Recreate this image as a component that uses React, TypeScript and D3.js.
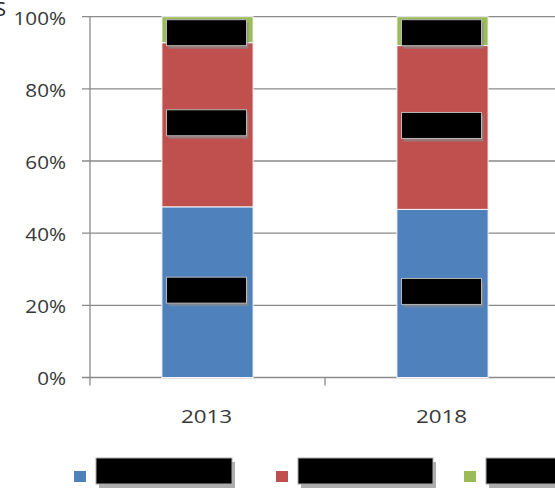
import React from "react";
import * as d3 from "d3";

const categories = ["2013", "2018"];
const seriesNames = ["Series A", "Series B", "Series C"];
const seriesA = [47.3, 46.6];
const seriesB = [45.5, 45.4];
const seriesC = [7.2, 8.0];
const yTicks = [0, 20, 40, 60, 80, 100];
const colors = ["#4F81BD", "#C0504D", "#9BBB59"];

const W = 555;
const H = 492;
const FONT = "'Open Sans', 'Noto Sans', sans-serif";
const TXT = "#383838";
const GRID = "#8a8a8a";

export default function App() {
  const axisX = 90;
  const step = 235;
  const x = d3
    .scaleBand<string>()
    .domain(categories)
    .range([axisX, axisX + step * categories.length])
    .paddingInner(0.612)
    .paddingOuter(0.306);
  const y = d3.scaleLinear().domain([0, 100]).range([377.5, 16.7]);

  const rows = categories.map((c, i) => ({
    cat: c,
    A: seriesA[i],
    B: seriesB[i],
    C: seriesC[i],
  }));
  const stack = d3.stack<any>().keys(["A", "B", "C"]);
  const layers = stack(rows);

  const legendX = [74, 276, 464];
  const legendBoxW = [136, 135, 120];

  return (
    <svg
      width={W}
      height={H}
      style={{ position: "absolute", left: 0, top: 0, background: "#fff" }}
      fontFamily={FONT}
    >
      <rect x={0} y={0} width={W} height={H} fill="#fff" />
      {/* cut-off title glyph */}
      <text x={6} y={16} textAnchor="end" fontSize={20} fill="#222">
        S
      </text>

      {/* gridlines */}
      {yTicks.map((t) => (
        <line
          key={t}
          x1={82}
          x2={W}
          y1={y(t)}
          y2={y(t)}
          stroke={GRID}
          strokeWidth={1.3}
        />
      ))}
      {/* y axis */}
      <line x1={axisX} x2={axisX} y1={y(100)} y2={y(0) + 8} stroke={GRID} strokeWidth={1.3} />
      {/* category ticks */}
      {categories.map((c, i) => (
        <line
          key={c}
          x1={axisX + step * (i + 1)}
          x2={axisX + step * (i + 1)}
          y1={y(0)}
          y2={y(0) + 8}
          stroke={GRID}
          strokeWidth={1.3}
        />
      ))}

      {/* y labels */}
      {yTicks.map((t) => (
        <text
          key={t}
          transform={`translate(66,${y(t) + 1.5}) scale(1.18,1)`}
          textAnchor="end"
          dominantBaseline="central"
          fontSize={17.5}
          fill={TXT}
        >
          {t}%
        </text>
      ))}

      {/* bars */}
      {layers.map((layer, li) =>
        layer.map((d, i) => (
          <rect
            key={`${li}-${i}`}
            x={x(categories[i])!}
            y={y(d[1])}
            width={x.bandwidth()}
            height={y(d[0]) - y(d[1])}
            fill={colors[li]}
            stroke="#f4f6fb"
            strokeWidth={1}
          />
        ))
      )}

      {/* redacted data labels */}
      {layers.map((layer, li) =>
        layer.map((d, i) => {
          const cx = x(categories[i])! + x.bandwidth() / 2 - 1;
          const cy = Math.max(y((d[0] + d[1]) / 2) - 2, y(100) + 16);
          return (
            <g key={`lb-${li}-${i}`}>
              <rect x={cx - 40 + 2} y={cy - 13 + 3} width={80} height={26} fill="#8a8a8a" opacity={0.7} />
              <rect x={cx - 40} y={cy - 13} width={80} height={26} fill="#000" stroke="#b8b8b8" strokeWidth={1} />
            </g>
          );
        })
      )}

      {/* x labels */}
      {categories.map((c) => (
        <text
          key={c}
          transform={`translate(${x(c)! + x.bandwidth() / 2 - 1},423) scale(1.18,1)`}
          textAnchor="middle"
          fontSize={19}
          fill={TXT}
        >
          {c}
        </text>
      ))}

      {/* legend */}
      {seriesNames.map((n, i) => (
        <g key={n}>
          <rect x={legendX[i]} y={471} width={12} height={11} fill={colors[i]} />
          <text x={legendX[i] + 24} y={477} dominantBaseline="central" fontSize={16} fill="#000">
            {n}
          </text>
          <rect x={legendX[i] + 22 + 3} y={458 + 4} width={legendBoxW[i]} height={26} fill="#999" opacity={0.8} />
          <rect x={legendX[i] + 22} y={458} width={legendBoxW[i]} height={26} fill="#000" stroke="#aaa" strokeWidth={1} />
        </g>
      ))}
    </svg>
  );
}
